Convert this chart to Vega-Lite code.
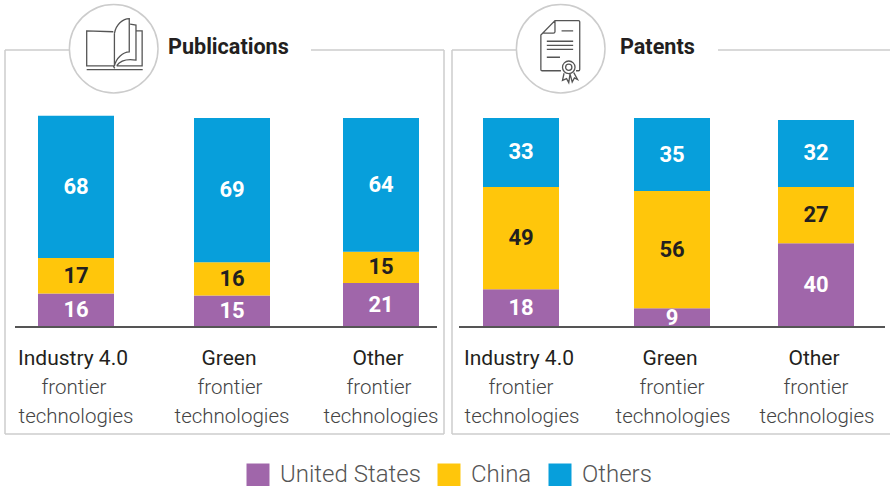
{"$schema":"https://vega.github.io/schema/vega-lite/v6.json","background":"white","padding":{"left":4,"top":1,"right":0,"bottom":0},"bounds":"flush","spacing":8,
"config":{"view":{"stroke":null},"font":"Roboto","legend":{"orient":"none","legendX":241,"legendY":413,"direction":"horizontal","title":null,"symbolType":"square","symbolSize":529,"symbolStrokeWidth":0,"labelFont":"Roboto","labelFontSize":24,"labelFontWeight":300,"labelColor":"#555555","labelOffset":10,"columnPadding":16,"labelLimit":200,"padding":0}},
"hconcat":[
{"width":439,"height":384,"data":{"values":[
{"slot":1,"tech":"Industry 4.0","series":"United States","o":1,"v":16},{"slot":1,"tech":"Industry 4.0","series":"China","o":2,"v":17},{"slot":1,"tech":"Industry 4.0","series":"Others","o":3,"v":68},
{"slot":2,"tech":"Green","series":"United States","o":1,"v":15},{"slot":2,"tech":"Green","series":"China","o":2,"v":16},{"slot":2,"tech":"Green","series":"Others","o":3,"v":69},
{"slot":3,"tech":"Other","series":"United States","o":1,"v":21},{"slot":3,"tech":"Other","series":"China","o":2,"v":15},{"slot":3,"tech":"Other","series":"Others","o":3,"v":64}]},
"encoding":{"x":{"field":"slot","type":"quantitative","axis":null,"scale":{"domain":[1,2,3],"range":[71,227,376],"padding":0}}},
"layer":[
{"mark":{"type":"rule","stroke":"#cccccc","strokeWidth":1.5},"data":{"values":[{}]},"encoding":{"x":{"value":0},"x2":{"value":65},"y":{"value":0}}},
{"mark":{"type":"rule","stroke":"#cccccc","strokeWidth":1.5},"data":{"values":[{}]},"encoding":{"x":{"value":306},"x2":{"value":439},"y":{"value":0}}},
{"mark":{"type":"rule","stroke":"#cccccc","strokeWidth":1.5},"data":{"values":[{}]},"encoding":{"x":{"value":0},"x2":{"value":439},"y":{"value":384}}},
{"mark":{"type":"rule","stroke":"#cccccc","strokeWidth":1.5},"data":{"values":[{}]},"encoding":{"x":{"value":0},"y":{"value":0},"y2":{"value":384}}},
{"mark":{"type":"rule","stroke":"#cccccc","strokeWidth":1.5},"data":{"values":[{}]},"encoding":{"x":{"value":439},"y":{"value":0},"y2":{"value":384}}},
{"mark":{"type":"point","shape":"circle","size":7850,"filled":false,"stroke":"#cccccc","strokeWidth":1.5,"opacity":1},"data":{"values":[{}]},"encoding":{"x":{"value":108.7},"y":{"value":-1.3}}},
{"mark":{"type":"point","shape":"M-.05,-.43 L-1,-.46 L-1,.79 L-.05,.79 L0,.88 M-1,.92 H1 M-.01,-.37 C.05,-.7 .3,-.9 .52,-.9 L.52,.29 C.3,.3 .05,.5 -.01,.8 L-.01,-.37 M.55,-.7 L.76,-.67 L.76,.58 C.4,.52 .2,.6 .07,.78 M.76,-.46 L.98,-.46 L.98,.79 L.07,.79","size":3136,"filled":false,"stroke":"#555555","strokeWidth":1.3,"opacity":1},"data":{"values":[{}]},"encoding":{"x":{"value":109.7},"y":{"value":-6.2}}},
{"mark":{"type":"text","text":"Publications","font":"Roboto","fontWeight":"bold","fontSize":21.6,"align":"left","baseline":"alphabetic","color":"#231f20"},"data":{"values":[{}]},"encoding":{"x":{"value":163},"y":{"value":3.5}}},
{"mark":{"type":"bar","width":76,"orient":"vertical"},"encoding":{"y":{"field":"v","type":"quantitative","stack":"zero","axis":null,"scale":{"domain":[-51.2,132.5],"nice":false,"zero":false}},"order":{"field":"o"},"color":{"field":"series","type":"nominal","scale":{"domain":["United States","China","Others"],"range":["#A066AA","#FFC60B","#079FDB"]},"sort":null}}},
{"mark":{"type":"text","font":"Roboto","fontWeight":"bold","fontSize":22,"baseline":"middle"},"encoding":{"y":{"field":"v","type":"quantitative","stack":"zero","bandPosition":0.5},"order":{"field":"o"},"text":{"field":"v","type":"quantitative"},"color":{"condition":{"test":"datum.series==='China'","value":"#231f20"},"value":"#ffffff"}}},
{"mark":{"type":"rule","stroke":"#555555","strokeWidth":2},"data":{"values":[{}]},"encoding":{"x":{"value":10},"x2":{"value":432},"y":{"value":277}}},
{"transform":[{"filter":"datum.series==='China'"}],"mark":{"type":"text","font":"Roboto","fontSize":21,"dx":-3,"baseline":"alphabetic","color":"#231f20"},"encoding":{"y":{"value":315},"text":{"field":"tech"}}},
{"transform":[{"filter":"datum.series==='China'"}],"mark":{"type":"text","font":"Roboto","fontWeight":300,"fontSize":20.5,"text":"frontier","dx":-2,"baseline":"alphabetic","color":"#444444"},"encoding":{"y":{"value":344}}},
{"transform":[{"filter":"datum.series==='China'"}],"mark":{"type":"text","font":"Roboto","fontWeight":300,"fontSize":20.5,"text":"technologies","dx":0,"baseline":"alphabetic","color":"#444444"},"encoding":{"y":{"value":373}}}
]},
{"width":438,"height":384,"data":{"values":[
{"slot":1,"tech":"Industry 4.0","series":"United States","o":1,"v":18},{"slot":1,"tech":"Industry 4.0","series":"China","o":2,"v":49},{"slot":1,"tech":"Industry 4.0","series":"Others","o":3,"v":33},
{"slot":2,"tech":"Green","series":"United States","o":1,"v":9},{"slot":2,"tech":"Green","series":"China","o":2,"v":56},{"slot":2,"tech":"Green","series":"Others","o":3,"v":35},
{"slot":3,"tech":"Other","series":"United States","o":1,"v":40},{"slot":3,"tech":"Other","series":"China","o":2,"v":27},{"slot":3,"tech":"Other","series":"Others","o":3,"v":32}]},
"encoding":{"x":{"field":"slot","type":"quantitative","axis":null,"scale":{"domain":[1,2,3],"range":[69,220,364],"padding":0}}},
"layer":[
{"mark":{"type":"rule","stroke":"#cccccc","strokeWidth":1.5},"data":{"values":[{}]},"encoding":{"x":{"value":0},"x2":{"value":64},"y":{"value":0}}},
{"mark":{"type":"rule","stroke":"#cccccc","strokeWidth":1.5},"data":{"values":[{}]},"encoding":{"x":{"value":266},"x2":{"value":438},"y":{"value":0}}},
{"mark":{"type":"rule","stroke":"#cccccc","strokeWidth":1.5},"data":{"values":[{}]},"encoding":{"x":{"value":0},"x2":{"value":438},"y":{"value":384}}},
{"mark":{"type":"rule","stroke":"#cccccc","strokeWidth":1.5},"data":{"values":[{}]},"encoding":{"x":{"value":0},"y":{"value":0},"y2":{"value":384}}},
{"mark":{"type":"point","shape":"circle","size":7850,"filled":false,"stroke":"#cccccc","strokeWidth":1.5,"opacity":1},"data":{"values":[{}]},"encoding":{"x":{"value":108.7},"y":{"value":-1.3}}},
{"mark":{"type":"point","shape":"M.02,.62 H-.58 Q-.62,.62 -.62,.58 V-.52 L-.17,-.98 H.58 Q.62,-.98 .62,-.94 V.58 Q.62,.62 .58,.62 H.5 M-.17,-.98 V-.62 Q-.17,-.58 -.22,-.58 H-.58 M.04,-.65 H.41 M-.43,-.32 H.41 M-.43,-.19 H.41 M-.43,-.06 H.41 M-.43,.19 H-.01 M.07,.51 A.2,.2 0 1 1 .47,.51 A.2,.2 0 1 1 .07,.51 M.17,.51 A.1,.1 0 1 1 .37,.51 A.1,.1 0 1 1 .17,.51 M.12,.7 L.07,.93 L.2,.87 L.27,1 L.31,.72 L.38,.98 L.45,.85 L.55,.9 L.43,.68","size":3931,"filled":false,"stroke":"#555555","strokeWidth":1.3,"opacity":1},"data":{"values":[{}]},"encoding":{"x":{"value":108.3},"y":{"value":1.3}}},
{"mark":{"type":"text","text":"Patents","font":"Roboto","fontWeight":"bold","fontSize":21.6,"align":"left","baseline":"alphabetic","color":"#231f20"},"data":{"values":[{}]},"encoding":{"x":{"value":168},"y":{"value":3.5}}},
{"mark":{"type":"bar","width":76,"orient":"vertical"},"encoding":{"y":{"field":"v","type":"quantitative","stack":"zero","axis":null,"scale":{"domain":[-51.2,132.5],"nice":false,"zero":false}},"order":{"field":"o"},"color":{"field":"series","type":"nominal","scale":{"domain":["United States","China","Others"],"range":["#A066AA","#FFC60B","#079FDB"]},"sort":null}}},
{"mark":{"type":"text","font":"Roboto","fontWeight":"bold","fontSize":22,"baseline":"middle"},"encoding":{"y":{"field":"v","type":"quantitative","stack":"zero","bandPosition":0.5},"order":{"field":"o"},"text":{"field":"v","type":"quantitative"},"color":{"condition":{"test":"datum.series==='China'","value":"#231f20"},"value":"#ffffff"}}},
{"mark":{"type":"rule","stroke":"#555555","strokeWidth":2},"data":{"values":[{}]},"encoding":{"x":{"value":7},"x2":{"value":433},"y":{"value":277}}},
{"transform":[{"filter":"datum.series==='China'"}],"mark":{"type":"text","font":"Roboto","fontSize":21,"dx":-2,"baseline":"alphabetic","color":"#231f20"},"encoding":{"y":{"value":315},"text":{"field":"tech"}}},
{"transform":[{"filter":"datum.series==='China'"}],"mark":{"type":"text","font":"Roboto","fontWeight":300,"fontSize":20.5,"text":"frontier","dx":0,"baseline":"alphabetic","color":"#444444"},"encoding":{"y":{"value":344}}},
{"transform":[{"filter":"datum.series==='China'"}],"mark":{"type":"text","font":"Roboto","fontWeight":300,"fontSize":20.5,"text":"technologies","dx":1,"baseline":"alphabetic","color":"#444444"},"encoding":{"y":{"value":373}}}
]}
]}
